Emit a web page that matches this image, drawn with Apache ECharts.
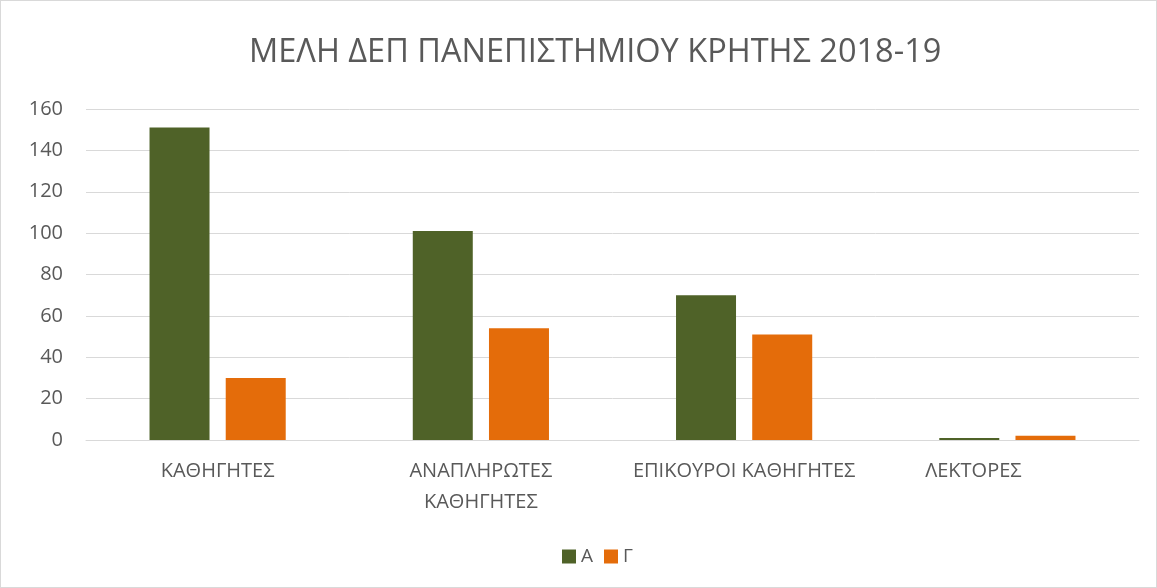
<!DOCTYPE html>
<html>
<head>
<meta charset="utf-8">
<script src="https://cdn.jsdelivr.net/npm/echarts@6/dist/echarts.min.js"></script>
<style>
  html, body { margin: 0; padding: 0; background: #fff; }
  #chart { width: 1155px; height: 586px; border: 1px solid #d9d9d9; }
</style>
</head>
<body>
<div id="chart"></div>
<script>
const categories = ["ΚΑΘΗΓΗΤΕΣ", "ΑΝΑΠΛΗΡΩΤΕΣ\nΚΑΘΗΓΗΤΕΣ", "ΕΠΙΚΟΥΡΟΙ ΚΑΘΗΓΗΤΕΣ", "ΛΕΚΤΟΡΕΣ"];
const seriesA = [151, 101, 70, 1];
const seriesG = [30, 54, 51, 2];
const yTicks = [0, 20, 40, 60, 80, 100, 120, 140, 160];

const chart = echarts.init(document.getElementById("chart"));

const font = "'Open Sans', sans-serif";

// last label sits a bit left of its bars in the original
const axisData = categories.map((c, i) =>
  i === categories.length - 1 ? { value: c, textStyle: { padding: [0, 68, 0, 0] } } : c
);

chart.setOption({
  animation: false,
  title: {
    text: "ΜΕΛΗ ΔΕΠ ΠΑΝΕΠΙΣΤΗΜΙΟΥ ΚΡΗΤΗΣ 2018-19",
    left: 243,
    top: 30,
    textStyle: { fontSize: 32.5, fontWeight: "normal", color: "#595959", fontFamily: font }
  },
  legend: {
    data: ["Α", "Γ"],
    bottom: 16,
    left: 556,
    itemWidth: 14,
    itemHeight: 14,
    itemGap: 11,
    icon: "rect",
    textStyle: { fontSize: 19, color: "#595959", fontFamily: font }
  },
  grid: { left: 85, right: 17, top: 108, bottom: 147 },
  xAxis: {
    type: "category",
    data: axisData,
    axisLine: { lineStyle: { color: "#d9d9d9" } },
    axisTick: { show: false },
    axisLabel: { interval: 0, fontSize: 20, color: "#595959", margin: 16, lineHeight: 31, fontFamily: font }
  },
  yAxis: {
    type: "value",
    min: yTicks[0],
    max: yTicks[yTicks.length - 1],
    interval: 20,
    axisLine: { show: false },
    axisTick: { show: false },
    splitLine: { lineStyle: { color: "#d9d9d9" } },
    axisLabel: { fontSize: 20, color: "#595959", margin: 23, fontFamily: font }
  },
  series: [
    {
      name: "Α",
      type: "bar",
      data: seriesA,
      itemStyle: { color: "#4F6228" },
      barWidth: 60,
      barGap: "27%"
    },
    {
      name: "Γ",
      type: "bar",
      data: seriesG,
      itemStyle: { color: "#E46C0A" },
      barWidth: 60,
      barGap: "27%"
    }
  ]
});
</script>
</body>
</html>
